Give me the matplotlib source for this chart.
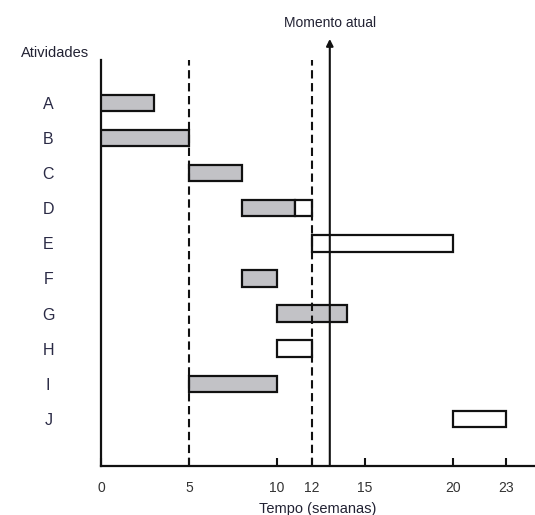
import matplotlib
matplotlib.use("Agg")
import matplotlib.pyplot as plt
from matplotlib.patches import Rectangle

activities = ["A", "B", "C", "D", "E", "F", "G", "H", "I", "J"]
start = [0, 0, 5, 8, 12, 8, 10, 10, 5, 20]
done_end = [3, 5, 8, 11, 12, 10, 14, 10, 10, 20]
end = [3, 5, 8, 12, 20, 10, 14, 12, 10, 23]
xticks = [0, 5, 10, 12, 15, 20, 23]
dashed_at = [5, 12]
current_time = 13

plt.rcParams['font.family'] = ['Liberation Sans', 'DejaVu Sans']

fig = plt.figure(figsize=(5.35, 5.15), dpi=100)
W, H = 535, 515
ax = fig.add_axes([101 / W, 49 / H, 434 / W, 406 / H])
ax.set_xlim(0, 24.66)
ax.set_ylim(10.34, -1.22)

gray = '#c2c2c6'
bh = 0.47
for i, act in enumerate(activities):
    if done_end[i] > start[i]:
        ax.add_patch(Rectangle((start[i], i - bh / 2), done_end[i] - start[i], bh,
                               facecolor=gray, edgecolor='#111111', lw=1.6, zorder=3))
    if end[i] > done_end[i]:
        ax.add_patch(Rectangle((done_end[i], i - bh / 2), end[i] - done_end[i], bh,
                               facecolor='white', edgecolor='#111111', lw=1.6, zorder=3))

for xd in dashed_at:
    ax.axvline(xd, color='#111111', lw=1.5, ls=(0, (4, 2.2)), zorder=4)

ax.annotate('', xy=(current_time, -1.82), xytext=(current_time, 10.34),
            xycoords='data', annotation_clip=False,
            arrowprops=dict(arrowstyle='-|>', color='#111111', lw=1.5,
                            mutation_scale=10, shrinkA=0, shrinkB=0), zorder=5)
ax.text(current_time, -2.28, 'Momento atual', ha='center', va='center',
        fontsize=10, color='#222233', clip_on=False)

for s in ['top', 'right']:
    ax.spines[s].set_visible(False)
for s in ['left', 'bottom']:
    ax.spines[s].set_linewidth(1.6)
    ax.spines[s].set_color('#111111')

ax.set_xticks(xticks)
ax.set_xticklabels([str(t) for t in xticks], fontsize=10, color='#333333')
ax.tick_params(axis='x', direction='in', length=6, width=1.5, pad=11, color='#111111')
ax.set_yticks(range(len(activities)))
ax.set_yticklabels(activities, fontsize=11.5, color='#2a2a45')
ax.tick_params(axis='y', length=0, pad=38)
for lab in ax.get_yticklabels():
    lab.set_horizontalalignment('center')
ax.set_xlabel('Tempo (semanas)', fontsize=10.5, color='#222233', labelpad=5)

fig.text(55 / W, 1 - 53 / H, 'Atividades', ha='center', va='center',
         fontsize=10.5, color='#222233')

fig.savefig('out.png', dpi=100, facecolor='white')
